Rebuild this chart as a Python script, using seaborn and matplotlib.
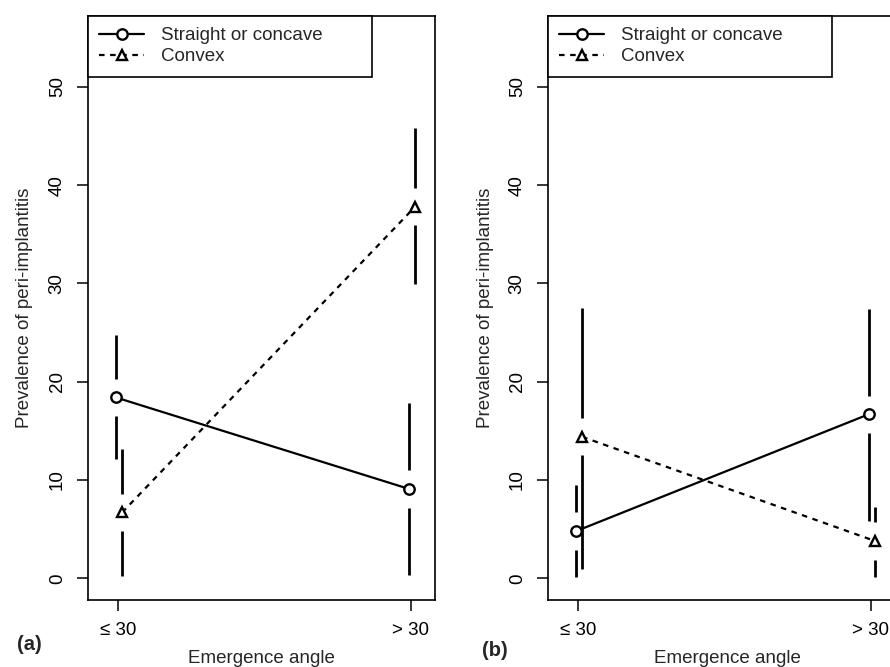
import numpy as np
import pandas as pd
import matplotlib
matplotlib.use("Agg")
import matplotlib.pyplot as plt
import seaborn as sns

# Data (prevalence %, with interval ends)
angle_labels = ["≤ 30", "> 30"]
shapes = ["Straight or concave", "Convex"]

a_straight = [18.4, 9.1]
a_straight_lo = [12.1, 0.3]
a_straight_hi = [24.8, 17.8]
a_convex = [6.7, 37.8]
a_convex_lo = [0.2, 29.9]
a_convex_hi = [13.2, 45.8]

b_straight = [4.8, 16.7]
b_straight_lo = [0.1, 5.8]
b_straight_hi = [9.5, 27.4]
b_convex = [14.4, 3.8]
b_convex_lo = [1.0, 0.1]
b_convex_hi = [27.5, 7.3]

panels = {
    "(a)": {
        "Straight or concave": (a_straight, a_straight_lo, a_straight_hi),
        "Convex": (a_convex, a_convex_lo, a_convex_hi),
    },
    "(b)": {
        "Straight or concave": (b_straight, b_straight_lo, b_straight_hi),
        "Convex": (b_convex, b_convex_lo, b_convex_hi),
    },
}

sns.set_style("white")
plt.rcParams['font.family'] = ['Liberation Sans', 'DejaVu Sans']
fs = 13.5

dodge = {"Straight or concave": -0.007, "Convex": 0.014}
markers = {"Straight or concave": "o", "Convex": "^"}
dashes = {"Straight or concave": "", "Convex": (2.5, 2.5)}
gap = 1.9

W, H = 890, 667
fig = plt.figure(figsize=(W / 100, H / 100), dpi=100)
axes = [fig.add_axes([88 / W, 67 / H, 347 / W, 584 / H]),
        fig.add_axes([548 / W, 67 / H, 347 / W, 584 / H])]

for ax, (tag, groups) in zip(axes, panels.items()):
    rows = []
    for shape, (mean, lo, hi) in groups.items():
        for i, lab in enumerate(angle_labels):
            x = i + 1 + dodge[shape]
            rows.append({"x": x, "y": mean[i], "shape": shape})
            # error bar split around the point
            ax.vlines(x, lo[i], max(lo[i], mean[i] - gap), color="black", lw=2.0, zorder=2)
            ax.vlines(x, min(hi[i], mean[i] + gap), hi[i], color="black", lw=2.0, zorder=2)
    df = pd.DataFrame(rows)
    sns.lineplot(data=df, x="x", y="y", hue="shape", style="shape",
                 palette={s: "black" for s in shapes}, markers=markers, dashes=dashes,
                 hue_order=shapes, style_order=shapes,
                 lw=1.6, ms=7.5, mec="black", mew=1.7, mfc="white",
                 legend=False, ax=ax, zorder=3)

    ax.set_xlim(0.8976, 2.082)
    ax.set_ylim(-2.2, 57.2)
    ax.set_xticks([1, 2])
    ax.set_xticklabels(angle_labels)
    ax.set_yticks([0, 10, 20, 30, 40, 50])
    for lbl in ax.get_yticklabels():
        lbl.set_rotation(90)
        lbl.set_va("center")
    ax.tick_params(axis="both", direction="out", length=8, width=1.1, color="black",
                   labelsize=fs, labelcolor="black", left=True, bottom=True)
    ax.tick_params(axis="y", pad=8)
    ax.tick_params(axis="x", pad=8)
    for sp in ax.spines.values():
        sp.set_color("black")
        sp.set_linewidth(1.2)
    ax.set_xlabel("Emergence angle", fontsize=fs)
    ax.set_ylabel("Prevalence of peri-implantitis", fontsize=fs, labelpad=11)

    leg = ax.legend(ax.lines[:2], shapes, loc="upper left", bbox_to_anchor=(0, 1, 0.818, 0),
                    mode="expand", fancybox=False, framealpha=1, edgecolor="black",
                    borderaxespad=0, borderpad=0.6, labelspacing=0.2,
                    handlelength=2.4, handletextpad=0.9, fontsize=fs)
    leg.get_frame().set_linewidth(1.2)

axes[0].xaxis.set_label_coords(0.5, -0.085)
axes[1].xaxis.set_label_coords(0.516, -0.085)

fig.text(17 / W, 1 - 644 / H, "(a)", fontsize=14.5, fontweight="bold", va="center", ha="left")
fig.text(482 / W, 1 - 650 / H, "(b)", fontsize=14.5, fontweight="bold", va="center", ha="left")

fig.savefig("out.png", dpi=100)
